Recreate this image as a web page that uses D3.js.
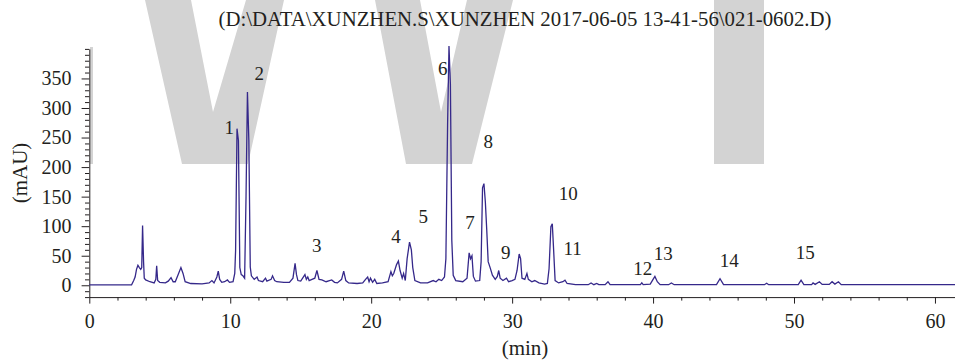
<!DOCTYPE html>
<html>
<head>
<meta charset="utf-8">
<script src="https://cdn.jsdelivr.net/npm/d3@7"></script>
<style>
  html, body { margin: 0; padding: 0; background: #fff; }
  svg { display: block; }
  text { font-family: "Liberation Serif", "Times New Roman", serif; fill: #231f20; }
</style>
</head>
<body>
<svg id="chart" width="955" height="360"></svg>
<script>
// HPLC trace: retention time (min) and absorbance (mAU)
const times = [
  0, 3.0, 3.15, 3.25, 3.35, 3.45, 3.55, 3.65, 3.72, 3.78, 3.85, 3.9, 4.0, 4.3, 4.6,
  4.72, 4.78, 4.85, 5.0, 5.4, 5.6, 5.8, 5.95, 6.1, 6.3, 6.5, 6.65, 6.8, 7.2, 8.0,
  8.5, 8.7, 8.85, 9.05, 9.15, 9.25, 9.4, 9.6, 9.8, 9.95, 10.2, 10.32, 10.38, 10.48, 10.58,
  10.68, 10.78, 10.9, 11.02, 11.12, 11.22, 11.32, 11.42, 11.5, 11.7, 11.9, 12.0, 12.3, 12.5, 12.6,
  12.9, 13.0, 13.15, 13.3, 13.8, 14.2, 14.45, 14.6, 14.7, 14.8, 15.0, 15.3, 15.4, 15.5, 15.6,
  15.8, 16.0, 16.15, 16.3, 16.5, 16.8, 17.2, 17.4, 17.6, 17.9, 18.05, 18.2, 18.4, 19.0, 19.4,
  19.6, 19.75, 19.85, 19.95, 20.1, 20.25, 20.4, 20.8, 21.2, 21.4, 21.5, 21.6, 21.8, 21.93, 22.05,
  22.2, 22.3, 22.42, 22.55, 22.72, 22.85, 22.95, 23.1, 23.5, 24.0, 24.4, 24.6, 24.8, 25.0, 25.2,
  25.3, 25.42, 25.52, 25.62, 25.72, 25.82, 26.0, 26.5, 26.8, 26.95, 27.05, 27.15, 27.25, 27.4, 27.7,
  27.8, 27.9, 28.0, 28.1, 28.2, 28.3, 28.45, 28.6, 28.8, 28.95, 29.05, 29.15, 29.35, 29.6, 29.75,
  30.0, 30.2, 30.35, 30.5, 30.6, 30.7, 30.9, 31.05, 31.15, 31.4, 31.6, 31.9, 32.3, 32.5, 32.62,
  32.75, 32.85, 32.95, 33.05, 33.3, 33.6, 33.75, 33.9, 34.5, 35.4, 35.6, 35.8, 36.0, 36.15, 36.6,
  36.8, 36.95, 39.1, 39.2, 39.3, 39.8, 40.0, 40.13, 40.3, 40.5, 41.1, 41.3, 41.5, 44.5, 44.75,
  45.0, 47.9, 48.06, 48.2, 50.3, 50.5, 50.7, 51.25, 51.35, 51.5, 51.8, 52.0, 52.5, 52.7, 52.9,
  53.15, 53.35, 61.5
];
const absorbance = [
  0.8, 0.8, 8, 14, 27, 34, 30, 27, 30, 101, 40, 12, 9, 6, 4,
  10, 33, 8, 5, 4, 7, 13, 6, 6, 18, 30, 20, 6, 3, 2.5,
  4, 8, 4, 14, 24, 10, 5, 6, 9, 5, 6, 20, 59, 265, 245,
  30, 18, 16, 12, 150, 327, 245, 31, 16, 10, 14, 8, 6, 12, 7,
  10, 16, 8, 6, 5, 5, 12, 37, 18, 8, 7, 18, 10, 14, 8,
  10, 12, 25, 10, 9, 6, 9, 5, 4, 10, 24, 8, 4, 3, 4,
  10, 14, 6, 12, 5, 10, 3, 4, 6, 23, 16, 20, 35, 41, 25,
  12, 20, 8, 45, 73, 60, 30, 8, 4, 4, 8, 6, 10, 8, 14,
  45, 270, 405, 340, 76, 17, 8, 6, 12, 55, 45, 50, 15, 7, 8,
  40, 165, 172, 141, 93, 40, 29, 17, 10, 15, 25, 12, 8, 12, 6,
  8, 10, 25, 53, 45, 12, 10, 20, 10, 6, 8, 4, 2, 3, 28,
  99, 104, 57, 8, 4, 6, 8.5, 3, 1, 1, 4, 1, 3, 1, 1,
  6, 1, 1, 4, 1, 2, 10, 15, 6, 1, 1, 4, 1, 1, 11,
  1, 1, 3.5, 1, 1, 8.5, 1, 1, 4, 1.5, 6, 1.5, 1.5, 6, 2,
  6, 1, 1
];

// Numbered peak markers, placed in chart units (min, mAU)
const peakIds = ["1", "2", "3", "4", "5", "6", "7", "8", "9", "10", "11", "12", "13", "14", "15"];
const peakLabelTimes = [9.93, 12.06, 16.13, 21.76, 23.70, 25.07, 27.01, 28.31, 29.54, 33.98, 34.30, 39.26, 40.72, 45.41, 50.80];
const peakLabelLevels = [267, 358, 67, 82, 117, 367, 106, 244, 56, 156, 63, 28, 54, 42, 56];

// Axis ticks
const xTickLabels = [0, 10, 20, 30, 40, 50, 60];
const xMinorTicks = d3.range(0, 62, 2).filter(v => v % 10 !== 0);
const yTickLabels = [0, 50, 100, 150, 200, 250, 300, 350];
const yMinorTicks = d3.range(-20, 401, 10).filter(v => v % 50 !== 0 || v === 400);

const chartTitle = "(D:\\DATA\\XUNZHEN.S\\XUNZHEN 2017-06-05 13-41-56\\021-0602.D)";
const xAxisTitle = "(min)";
const yAxisTitle = "(mAU)";

const svg = d3.select("#chart");

// Background watermark lettering
const wm = svg.append("g").attr("fill", "#d3d3d3");
const wmShapes = [
  [[145, 0], [191, 0], [213, 112], [246, 0], [284, 0], [248, 164], [182, 164]],
  [[375, 0], [420, 0], [441, 112], [467, 0], [513, 0], [472, 164], [406, 164]],
  [[714, 0], [764, 0], [764, 164], [714, 164]],
  [[90, 47], [93, 47], [93, 164], [90, 164]]
];
wm.selectAll("polygon").data(wmShapes).join("polygon")
  .attr("points", d => d.map(p => p.join(",")).join(" "));

const x = d3.scaleLinear().domain([0, 61.5]).range([89.3, 956.1]);
const y = d3.scaleLinear().domain([-20, 400]).range([297.1, 48.9]);

// Title
svg.append("text")
  .attr("x", 525).attr("y", 26)
  .attr("text-anchor", "middle")
  .style("font-size", "20.8px")
  .text(chartTitle);

// X axis
const xAxisY = y(-20);
const gx = svg.append("g").attr("transform", `translate(0,${xAxisY})`);
gx.call(d3.axisBottom(x).tickValues(xMinorTicks).tickSize(3.5).tickSizeOuter(0).tickFormat(""));
gx.call(g => g.select(".domain").remove());
const gx2 = svg.append("g").attr("transform", `translate(0,${xAxisY})`);
gx2.call(d3.axisBottom(x).tickValues(xTickLabels).tickSize(6.5).tickSizeOuter(0).tickPadding(10).tickFormat(d3.format("d")));

// Y axis
const yAxisX = x(0);
const gy = svg.append("g").attr("transform", `translate(${yAxisX},0)`);
gy.call(d3.axisLeft(y).tickValues(yMinorTicks).tickSize(4.3).tickSizeOuter(0).tickFormat(""));
gy.call(g => g.select(".domain").remove());
const gy2 = svg.append("g").attr("transform", `translate(${yAxisX},0)`);
gy2.call(d3.axisLeft(y).tickValues(yTickLabels).tickSize(7.7).tickSizeOuter(0).tickPadding(10).tickFormat(d3.format("d")));

svg.selectAll(".tick line").attr("stroke", "#231f20");
svg.selectAll(".domain").attr("stroke", "#231f20");
svg.selectAll(".tick text")
  .style("font-family", '"Liberation Serif", "Times New Roman", serif')
  .style("font-size", "20px")
  .attr("fill", "#231f20");

// Axis titles
svg.append("text")
  .attr("x", 525).attr("y", 348)
  .attr("text-anchor", "middle").attr("dominant-baseline", "central")
  .style("font-size", "21px")
  .text(xAxisTitle);
svg.append("text")
  .attr("transform", "translate(20,173) rotate(-90)")
  .attr("text-anchor", "middle").attr("dominant-baseline", "central")
  .style("font-size", "21px")
  .text(yAxisTitle);

// Trace
const trace = times.map((t, i) => [t, absorbance[i]]);
svg.append("path")
  .datum(trace)
  .attr("fill", "none")
  .attr("stroke", "#35288a")
  .attr("stroke-width", 1.3)
  .attr("stroke-linejoin", "miter")
  .attr("d", d3.line().x(d => x(d[0])).y(d => y(d[1])));

// Peak numbers
svg.append("g").selectAll("text")
  .data(peakIds)
  .join("text")
  .attr("x", (d, i) => x(peakLabelTimes[i]))
  .attr("y", (d, i) => y(peakLabelLevels[i]))
  .attr("text-anchor", "middle")
  .attr("dominant-baseline", "central")
  .style("font-size", "19px")
  .text(d => d);
</script>
</body>
</html>
